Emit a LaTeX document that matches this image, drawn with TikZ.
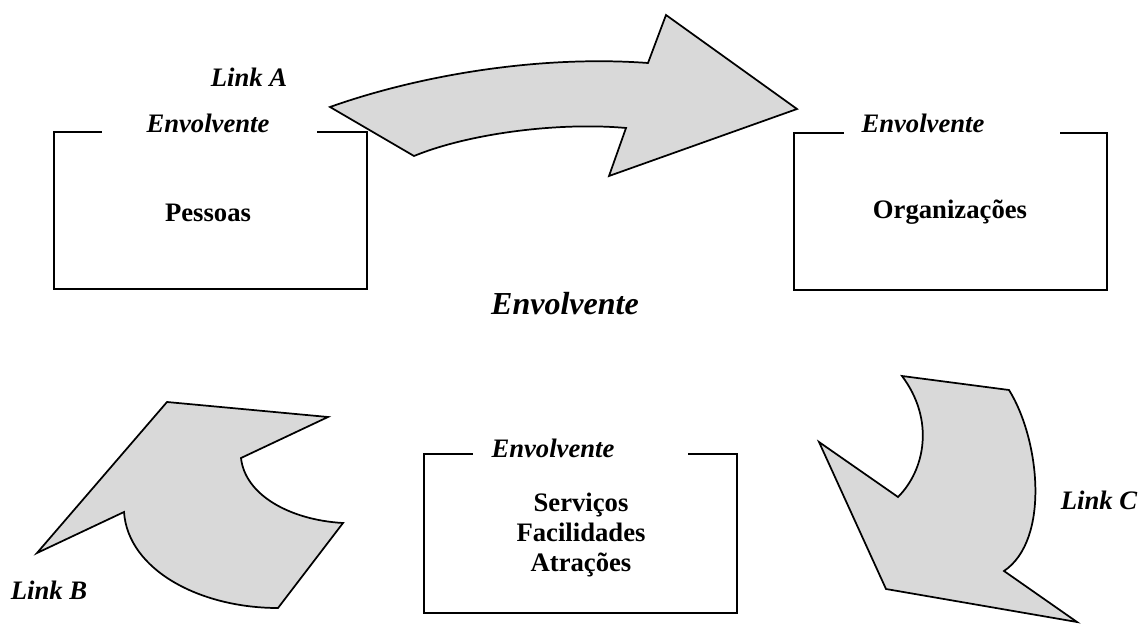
\documentclass[tikz,border=0pt]{standalone}
\usepackage{fontspec}
\setmainfont{Liberation Serif}
\begin{document}
\begin{tikzpicture}[x=0.75pt,y=-0.75pt,
  framebox/.style={line width=1.3pt, line cap=rect},
  bigarrow/.style={draw=black, line width=1.3pt, fill=black!15, line join=miter},
  lbl/.style={font=\fontsize{20}{24}\selectfont\bfseries\itshape, inner sep=0pt},
  biglbl/.style={font=\fontsize{24}{28}\selectfont\bfseries\itshape, inner sep=0pt},
  content/.style={font=\fontsize{20}{22.5}\selectfont\bfseries, align=center, inner sep=0pt}]
\useasboundingbox (0,0) rectangle (1145,624);
% boxes with open top
\draw[framebox] (101,132) -- (54,132) -- (54,289) -- (367,289) -- (367,132) -- (318,132);
\draw[framebox] (843,133) -- (794,133) -- (794,290) -- (1107,290) -- (1107,133) -- (1061,133);
\draw[framebox] (472,454) -- (424,454) -- (424,613) -- (737,613) -- (737,454) -- (689,454);
% box labels
\node[lbl] (envA) at (208,123) {Envolvente};
\node[lbl] (envB) at (923,123) {Envolvente};
\node[lbl] (envC) at (553,448) {Envolvente};
\node[content] (pessoas) at (208,213) {Pessoas};
\node[content] (org) at (950,212) {Organizações};
\node[content] (serv) at (581,535) {Serviços\\Facilidades\\Atrações};
\node[biglbl] (env) at (565,304) {Envolvente};
% link labels
\node[lbl] (linkA) at (249,77) {Link A};
\node[lbl] (linkB) at (49,590) {Link B};
\node[lbl] (linkC) at (1099,500) {Link C};
% arrow A
\draw[bigarrow] (330,107) .. controls (420,75) and (540,55) .. (648,63)
  -- (666,15) -- (797,109) -- (609,176) -- (626,128)
  .. controls (560,122) and (470,133) .. (414,156) -- cycle;
% arrow B
\draw[bigarrow] (167,402) -- (328,417) -- (241,458)
  .. controls (245,495) and (290,520) .. (343,523)
  -- (278,608) .. controls (200,608) and (128,570) .. (124,512)
  -- (37,553) -- cycle;
% arrow C
\draw[bigarrow] (902,376) -- (1009,390)
  .. controls (1040,440) and (1050,540) .. (1004,571)
  -- (1077,622) -- (886,589) -- (819,442) -- (898,497)
  .. controls (925,470) and (935,420) .. (902,376) -- cycle;
\end{tikzpicture}
\end{document}
